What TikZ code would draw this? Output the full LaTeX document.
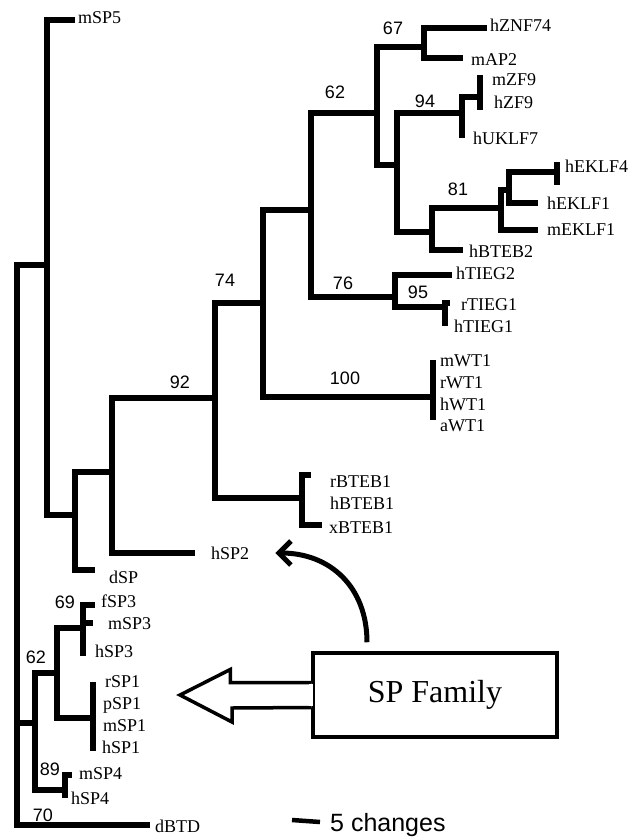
\documentclass[tikz,border=0pt]{standalone}
\usepackage{fontspec}
\setmainfont{Liberation Serif}
\setsansfont{Liberation Sans}
\usetikzlibrary{arrows.meta}
\tikzset{
  treeLine/.style={line width=6pt, line join=miter},
  leafLbl/.style={anchor=west, inner sep=0pt, font=\fontsize{18}{18}\selectfont,
                  text height=12pt, text depth=0pt},
  bootLbl/.style={inner sep=0pt, font=\sffamily\fontsize{18}{18}\selectfont,
                  text height=13pt, text depth=0pt},
  famBox/.style={draw, line width=3.5pt, minimum width=244pt, minimum height=84pt,
                 inner sep=0pt, font=\fontsize{32}{32}\selectfont},
  famArrow/.style={line width=3.5pt, line join=miter, fill=white},
  bendArrow/.style={-{Straight Barb[length=12pt,width=24pt]}, line width=5pt},
  scaleLbl/.style={anchor=west, inner sep=0pt, font=\sffamily\fontsize{25}{25}\selectfont,
                   text height=18pt, text depth=0pt},
}
\begin{document}
\begin{tikzpicture}[x=1pt, y=-1pt]
  \useasboundingbox (0,0) rectangle (641,840);
  % inner nodes of the tree
  \coordinate (root) at (17,723);
  \coordinate (aSP5) at (47,265);
  \coordinate (bDSP) at (75,515);
  \coordinate (cSP2) at (112,472);
  \coordinate (n92) at (215,398);
  \coordinate (n74) at (263,303);
  \coordinate (dKLF) at (311,210);
  \coordinate (n62) at (377,113);
  \coordinate (n67) at (424,47);
  \coordinate (eKLF) at (397,165);
  \coordinate (n94) at (462,113);
  \coordinate (fZF9) at (480,97);
  \coordinate (n81) at (432,232);
  \coordinate (gEKLF) at (501,208);
  \coordinate (hEKLF) at (509,190);
  \coordinate (kEKLF4) at (557,172);
  \coordinate (n76) at (395,297);
  \coordinate (n95) at (445,307);
  \coordinate (n100) at (433,397);
  \coordinate (nBTEB) at (302,498);
  \coordinate (n62b) at (35,723);
  \coordinate (iSP) at (57,673);
  \coordinate (n69) at (83,628);
  \coordinate (nSP1) at (93,718);
  \coordinate (n89) at (65,790);
  % tips
  \coordinate (tSP5) at (75,20);
  \coordinate (tZNF) at (487,28);
  \coordinate (tAP2) at (463,58);
  \coordinate (tZF9a) at (480,75);
  \coordinate (tZF9b) at (480,110);
  \coordinate (tUKLF) at (462,138);
  \coordinate (tEKLF4a) at (557,162);
  \coordinate (tEKLF4b) at (557,185);
  \coordinate (tEKLF1) at (538,203);
  \coordinate (tmEKLF) at (538,230);
  \coordinate (tBTEB2) at (463,250);
  \coordinate (tTIEG2) at (452,275);
  \coordinate (tTIEG1a) at (450,303);
  \coordinate (tTIEG1b) at (445,326);
  \coordinate (tWTa) at (433,360);
  \coordinate (tWTb) at (433,420);
  \coordinate (tBTEB1a) at (311,475);
  \coordinate (tBTEB1b) at (322,525);
  \coordinate (tSP2) at (195,553);
  \coordinate (tDSP) at (95,570);
  \coordinate (tSP3a) at (95,605);
  \coordinate (tSP3b) at (93,623);
  \coordinate (tSP3c) at (83,656);
  \coordinate (tSP1a) at (93,682);
  \coordinate (tSP1b) at (93,751);
  \coordinate (tSP4a) at (72,775);
  \coordinate (tSP4b) at (65,798);
  \coordinate (tBTD) at (150,825);
  % branches
  \foreach \p/\c in {root/aSP5, root/n62b, root/tBTD, aSP5/tSP5, aSP5/bDSP,
      bDSP/cSP2, bDSP/tDSP, cSP2/n92, cSP2/tSP2, n92/n74, n92/nBTEB,
      n74/dKLF, n74/n100, dKLF/n62, dKLF/n76, n62/n67, n62/eKLF,
      n67/tZNF, n67/tAP2, eKLF/n94, eKLF/n81, n94/fZF9, n94/tUKLF,
      fZF9/tZF9a, fZF9/tZF9b, n81/gEKLF, n81/tBTEB2, gEKLF/hEKLF, gEKLF/tmEKLF,
      hEKLF/kEKLF4, hEKLF/tEKLF1, kEKLF4/tEKLF4a, kEKLF4/tEKLF4b,
      n76/tTIEG2, n76/n95, n95/tTIEG1a, n95/tTIEG1b, n100/tWTa, n100/tWTb,
      nBTEB/tBTEB1a, nBTEB/tBTEB1b, n62b/iSP, n62b/n89, iSP/n69, iSP/nSP1,
      n69/tSP3a, n69/tSP3b, n69/tSP3c, nSP1/tSP1a, nSP1/tSP1b,
      n89/tSP4a, n89/tSP4b}
    \draw[treeLine] (\p) |- (\c);
  % leaf names
  \node[leafLbl] (mSP5) at (78,18) {mSP5};
  \node[leafLbl] (hZNF74) at (490,26) {hZNF74};
  \node[leafLbl] (mAP2) at (471,60) {mAP2};
  \node[leafLbl] (mZF9) at (492,80) {mZF9};
  \node[leafLbl] (hZF9) at (494,103) {hZF9};
  \node[leafLbl] (hUKLF7) at (473,138) {hUKLF7};
  \node[leafLbl] (hEKLF4) at (565,166) {hEKLF4};
  \node[leafLbl] (hEKLF1) at (547,203) {hEKLF1};
  \node[leafLbl] (mEKLF1) at (547,229) {mEKLF1};
  \node[leafLbl] (hBTEB2) at (469,251) {hBTEB2};
  \node[leafLbl] (hTIEG2) at (456,273) {hTIEG2};
  \node[leafLbl] (rTIEG1) at (461,304) {rTIEG1};
  \node[leafLbl] (hTIEG1) at (454,326) {hTIEG1};
  \node[leafLbl] (mWT1) at (440,360) {mWT1};
  \node[leafLbl] (rWT1) at (440,382) {rWT1};
  \node[leafLbl] (hWT1) at (440,404) {hWT1};
  \node[leafLbl] (aWT1) at (440,425) {aWT1};
  \node[leafLbl] (rBTEB1) at (330,481) {rBTEB1};
  \node[leafLbl] (hBTEB1) at (330,503) {hBTEB1};
  \node[leafLbl] (xBTEB1) at (329,527) {xBTEB1};
  \node[leafLbl] (hSP2) at (211,553) {hSP2};
  \node[leafLbl] (dSP) at (109,577) {dSP};
  \node[leafLbl] (fSP3) at (101,601) {fSP3};
  \node[leafLbl] (mSP3) at (108,623) {mSP3};
  \node[leafLbl] (hSP3) at (95,651) {hSP3};
  \node[leafLbl] (rSP1) at (105,681) {rSP1};
  \node[leafLbl] (pSP1) at (103,703) {pSP1};
  \node[leafLbl] (mSP1) at (103,725) {mSP1};
  \node[leafLbl] (hSP1) at (102,747) {hSP1};
  \node[leafLbl] (mSP4) at (79,773) {mSP4};
  \node[leafLbl] (hSP4) at (71,798) {hSP4};
  \node[leafLbl] (dBTD) at (155,826) {dBTD};
  % bootstrap values
  \node[bootLbl] (b67) at (393,28) {67};
  \node[bootLbl] (b62) at (335,92) {62};
  \node[bootLbl] (b94) at (425,101) {94};
  \node[bootLbl] (b81) at (458,189) {81};
  \node[bootLbl] (b76) at (343,283) {76};
  \node[bootLbl] (b95) at (418,292) {95};
  \node[bootLbl] (b74) at (225,280) {74};
  \node[bootLbl] (b92) at (180,382) {92};
  \node[bootLbl] (b100) at (345,378) {100};
  \node[bootLbl] (b69) at (65,602) {69};
  \node[bootLbl] (b62sp) at (36,657) {62};
  \node[bootLbl] (b89) at (50,769) {89};
  \node[bootLbl] (b70) at (43,815) {70};
  % SP family box and arrows
  \node[famBox] (fam) at (435,695) {SP Family};
  \coordinate (spTip) at (180,695);
  \draw[famArrow] ([yshift=12.5pt]fam.west) -- ++(-81,0) -- ++(0,-13) -- (spTip)
    -- ++(52,27) -- ++(0,-14) -- ([yshift=-12.5pt]fam.west);
  \fill[white] ([xshift=-2pt,yshift=10.75pt]fam.west) rectangle ([xshift=2pt,yshift=-10.75pt]fam.west);
  \draw[bendArrow] ([xshift=-68pt,yshift=9pt]fam.north) .. controls +(0,-55) and +(55,0) .. ([xshift=26pt]hSP2.east);
  % scale bar
  \coordinate (barL) at (292,820);
  \node[scaleLbl] (scl) at (330,822) {5 changes};
  \draw[line width=4.5pt] (barL) -- ([xshift=-10pt]scl.west);
\end{tikzpicture}
\end{document}
